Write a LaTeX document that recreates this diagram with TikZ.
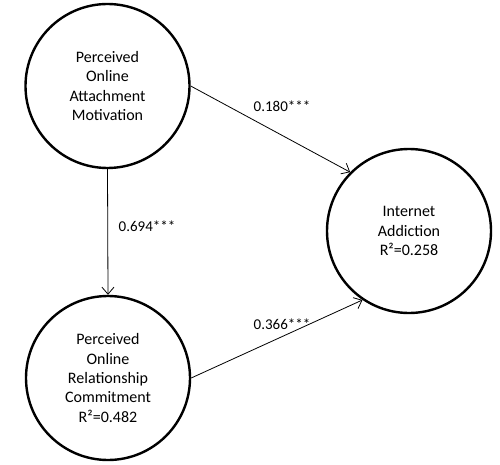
\documentclass[tikz,border=0pt]{standalone}
\usepackage{fontspec}
\setmainfont{Carlito}
\usetikzlibrary{arrows.meta}
\tikzset{
  latent/.style={draw, circle, line width=2.4pt, minimum size=164pt, inner sep=0pt,
    align=center, font=\fontsize{16}{19.3}\selectfont},
  path/.style={-{Straight Barb[length=7pt,width=12pt]}, line width=0.8pt},
  coef/.style={font=\fontsize{15}{17}\selectfont}
}

\begin{document}
\begin{tikzpicture}[x=1pt, y=-1pt]
  \useasboundingbox (0,0) rectangle (500,465);

  % Latent variables
  \node[latent] (pam) at (107.5, 86) {Perceived\\Online\\Attachment\\Motivation};
  \node[latent] (porc) at (108, 378) {Perceived\\Online\\Relationship\\Commitment\\R²=0.482};
  \node[latent] (ia) at (409, 231) {Internet\\Addiction\\R²=0.258};

  % Paths
  \draw[path] (pam.east) -- (ia.135);
  \draw[path] (pam.south) -- (porc.north);
  \draw[path] (porc.east) -- (ia.236);

  % Path coefficients
  \node[coef] (c1) at (282, 106) {0.180***};
  \node[coef] (c2) at (147, 226) {0.694***};
  \node[coef] (c3) at (282, 324) {0.366***};
\end{tikzpicture}
\end{document}
